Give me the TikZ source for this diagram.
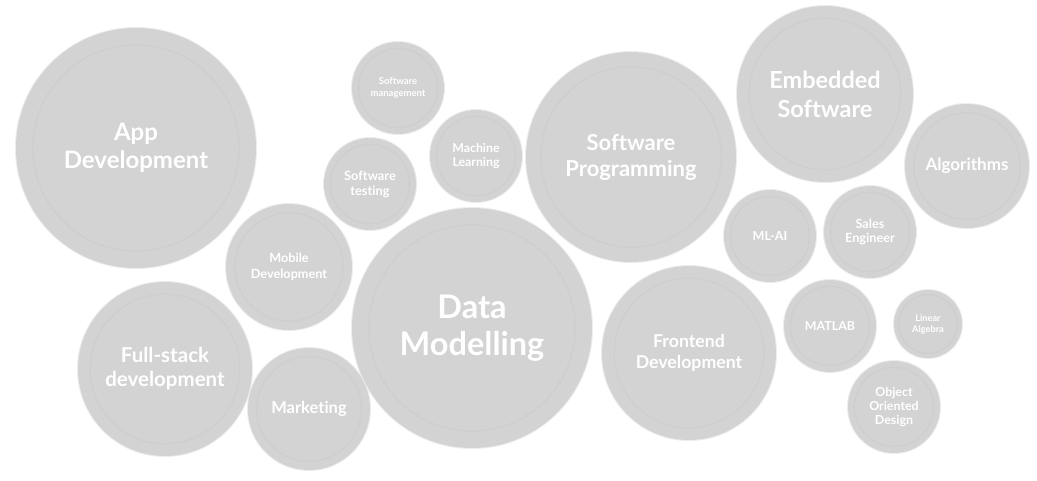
\documentclass[tikz,border=0pt]{standalone}
\usepackage{fontspec}
\setmainfont{Lato}[Ligatures={NoCommon}]
\definecolor{bubblefill}{HTML}{D3D3D3}
\definecolor{bubblering}{HTML}{CECECE}
\definecolor{bubbleshadow}{HTML}{EDEDED}
\tikzset{
  bubble/.style={circle, fill=bubblefill, inner sep=0pt, minimum size=2*#1,
    text=white, align=center,
    preaction={draw=bubbleshadow, line width=2pt},
    path picture={\draw[bubblering, line width=1.2pt] (path picture bounding box.center) circle[radius=0.86*#1];}},
  fs/.style 2 args={font={\fontsize{#1}{#2}\bfseries\selectfont}}
}
\begin{document}
\begin{tikzpicture}[x=1pt, y=-1pt]
\useasboundingbox[fill=white] (0,0) rectangle (1037,480);
\node[bubble=120, fs={24}{28}] (app) at (136,148) {App\\Development};
\node[bubble=46, fs={9.5}{12}] (swmgmt) at (398,88) {Software\\management};
\node[bubble=46, fs={12.3}{14.5}] (ml) at (476,156) {Machine\\Learning};
\node[bubble=46, fs={12.8}{15}] (swtest) at (370,184) {Software\\testing};
\node[bubble=63, fs={12.7}{16}] (mobile) at (289,267) {Mobile\\Development};
\node[bubble=120, fs={32.5}{37}] (data) at (472,328) {Data\\Modelling};
\node[bubble=87, fs={20.5}{24}] (full) at (165,369) {Full-stack\\development};
\node[bubble=61, fs={16.5}{20}] (mkt) at (309,409) {Marketing};
\node[bubble=105, fs={22}{26}] (swprog) at (631,157) {Software\\Programming};
\node[bubble=88, fs={23.5}{29}] (embed) at (825,94) {Embedded\\Software};
\node[bubble=62, fs={17}{20}] (algo) at (967,166) {Algorithms};
\node[bubble=46, fs={12.5}{15}] (mlai) at (770,236) {ML-AI};
\node[bubble=46, fs={12.7}{14.5}] (sales) at (870,232) {Sales\\Engineer};
\node[bubble=46, fs={12.4}{15}] (matlab) at (830,326) {MATLAB};
\node[bubble=34, fs={9.2}{11}] (linalg) at (928,324) {Linear\\Algebra};
\node[bubble=46, fs={12.4}{14}] (ood) at (894,407) {Object\\Oriented\\Design};
\node[bubble=87, fs={17.7}{20.5}] (front) at (689,353) {Frontend\\Development};
\end{tikzpicture}
\end{document}
